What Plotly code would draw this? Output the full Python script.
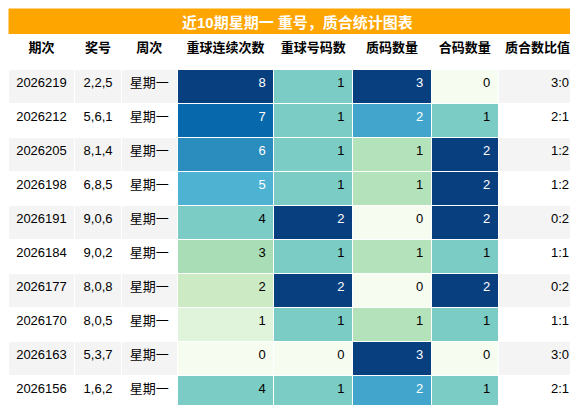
import plotly.graph_objects as go
from plotly.colors import sample_colorscale

title = "近10期星期一 重号，质合统计图表"
headers = ["期次", "奖号", "周次", "重球连续次数", "重球号码数", "质码数量", "合码数量", "质合数比值"]
periods = ["2026219", "2026212", "2026205", "2026198", "2026191", "2026184", "2026177", "2026170", "2026163", "2026156"]
numbers = ["2,2,5", "5,6,1", "8,1,4", "6,8,5", "9,0,6", "9,0,2", "8,0,8", "8,0,5", "5,3,7", "1,6,2"]
weekday = ["星期一"] * 10
repeat_streak = [8, 7, 6, 5, 4, 3, 2, 1, 0, 4]
repeat_count = [1, 1, 1, 1, 2, 1, 2, 1, 0, 1]
prime_count = [3, 2, 1, 1, 0, 1, 0, 1, 3, 2]
composite_count = [0, 1, 2, 2, 2, 1, 2, 1, 0, 1]
ratio = ["3:0", "2:1", "1:2", "1:2", "0:2", "1:1", "0:2", "1:1", "3:0", "2:1"]

gnbu = ["#f7fcf0", "#e0f3db", "#ccebc5", "#a8ddb5", "#7bccc4", "#4eb3d3", "#2b8cbe", "#0868ac", "#08407f"]
scale = [[i / 8, c] for i, c in enumerate(gnbu)]
FONT = "Liberation Sans, Noto Sans CJK SC"

def heat(vals):
    lo, hi = min(vals), max(vals)
    t = [(v - lo) / (hi - lo) for v in vals]
    return sample_colorscale(scale, t), ["white" if x > 0.55 else "black" for x in t]

stripe = ["#f4f4f4" if i % 2 == 0 else "white" for i in range(10)]
fills, fonts = [stripe] * 3, [["black"] * 10] * 3
for col in (repeat_streak, repeat_count, prime_count, composite_count):
    f, c = heat(col)
    fills.append(f)
    fonts.append(c)
fills.append(stripe)
fonts.append(["black"] * 10)

fig = go.Figure(go.Table(
    columnwidth=[68, 47, 57, 98, 80, 80, 68, 80],
    domain=dict(x=[0, 0.985], y=[0, 1 - 26 / 405]),
    header=dict(values=headers, height=35, align="center", fill_color="white",
                line=dict(color="white", width=1),
                font=dict(family=FONT, size=13, color="black", weight="bold")),
    cells=dict(values=[periods, numbers, weekday, repeat_streak, repeat_count, prime_count, composite_count, ratio],
               height=34, align=["center", "center", "center", "right", "right", "right", "right", "right"],
               fill_color=fills, line=dict(color="white", width=1),
               font=dict(family=FONT, size=13, color=fonts)),
))
fig.add_shape(type="rect", xref="paper", yref="paper", x0=0, x1=1, y0=1 - 30 / 405, y1=1,
              fillcolor="#ffa500", line=dict(color="#ffffff", width=1), layer="below")
fig.add_annotation(text=title, xref="paper", yref="paper", x=0.5, y=1, yanchor="top", yshift=-4,
                   showarrow=False,
                   font=dict(family=FONT, size=15, color="white", weight="bold"))
fig.update_layout(width=578, height=405, margin=dict(l=0, r=0, t=0, b=0), paper_bgcolor="white")
fig.write_html("out.html")
